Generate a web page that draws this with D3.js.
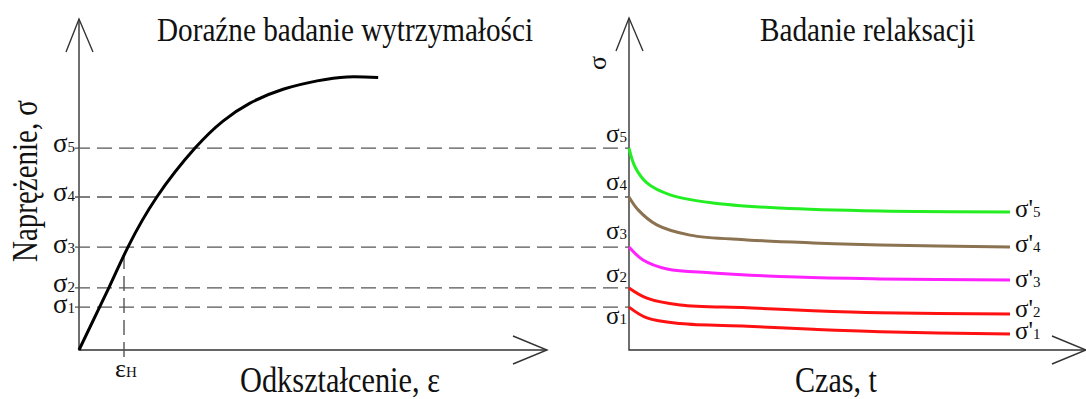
<!DOCTYPE html>
<html>
<head>
<meta charset="utf-8">
<script src="https://cdn.jsdelivr.net/npm/d3@7"></script>
<style>
  body { margin: 0; background: #fff; }
  text { font-family: "Liberation Serif", "Times New Roman", serif; fill: #111; }
</style>
</head>
<body>
<div id="chart"></div>
<script>
// stress levels sigma1..sigma5 (same units on both panels)
const sigmaLevels = [14.3, 20.7, 34.3, 51, 67.3];
const sigmaNames = ["1", "2", "3", "4", "5"];

// stress-strain curve (left panel)
const strain = [0, 6.4, 10.5, 16.7, 24.9, 30.9, 36.7, 43.8, 51.1, 57.5, 64.2];
const stress = [0, 20.7, 34.3, 51, 67.3, 76.3, 82.3, 86.9, 89.7, 91, 90.8];
const epsH = 9.66;

// relaxation curves (right panel)
const timeA = [0, 1.6, 4.7, 10.8, 22.0, 39.6, 65.9, 100];
const timeB = [0, 2.4, 7.3, 16.0, 31.0, 48.3, 65.9, 100];
const timeC = [0, 3.7, 10.0, 22.0, 44.1, 65.9, 100];
const timeD = [0, 4.7, 13.4, 31.0, 48.3, 65.9, 100];
const relax5 = [67.3, 61, 55.7, 51.7, 49, 47.3, 46.3, 46];
const relax4 = [51, 46.7, 41.7, 38.3, 36.7, 35.7, 35, 34.3];
const relax3 = [34.3, 30, 27, 25.7, 24.3, 23.7, 23.3];
const relax2 = [20.7, 17.3, 15, 14.1, 13.1, 12.4, 12];
const relax1 = [14.3, 10.7, 8.8, 7.9, 6.9, 6.1, 5.3];

const relaxSeries = [
  { name: "5", t: timeA, s: relax5, color: "#22ee22", ly: 217 },
  { name: "4", t: timeB, s: relax4, color: "#8b7250", ly: 252 },
  { name: "3", t: timeC, s: relax3, color: "#ff22ff", ly: 287 },
  { name: "2", t: timeD, s: relax2, color: "#ff1111", ly: 317 },
  { name: "1", t: timeD, s: relax1, color: "#ff1111", ly: 339 }
];

const width = 1086;
const height = 399;

const y = d3.scaleLinear().domain([0, 100]).range([350, 50]);
const xE = d3.scaleLinear().domain([0, 100]).range([79, 545]);
const xT = d3.scaleLinear().domain([0, 100]).range([629, 1010]);

const svg = d3.select("#chart")
  .append("svg")
  .attr("width", width)
  .attr("height", height);

const axisColor = "#333";

// axes with arrows
function arrowAxis(x0, y0, xEnd, yTop) {
  const g = svg.append("g")
    .attr("stroke", axisColor)
    .attr("stroke-width", 1.4)
    .attr("fill", "none");
  g.append("path").attr("d", `M${x0},${yTop}V${y0}H${xEnd}`);
  g.append("path").attr("d", `M${x0 - 13},${yTop + 33}L${x0},${yTop}L${x0 + 14},${yTop + 33}`);
  g.append("path").attr("d", `M${xEnd - 34},${y0 - 14}L${xEnd},${y0}L${xEnd - 34},${y0 + 14}`);
}
arrowAxis(xE(0), y(0), 547, 19);
arrowAxis(xT(0), y(0), 1086, 18);

// dashed guides
svg.append("g")
  .selectAll("line")
  .data(sigmaLevels)
  .enter()
  .append("line")
  .attr("x1", xE(0) - 4)
  .attr("x2", xT(0))
  .attr("y1", d => y(d))
  .attr("y2", d => y(d))
  .attr("stroke", "#555")
  .attr("stroke-width", 1.4)
  .attr("stroke-dasharray", "15,7");

svg.append("line")
  .attr("x1", xE(epsH)).attr("x2", xE(epsH))
  .attr("y1", y(0) + 7).attr("y2", y(31))
  .attr("stroke", "#555")
  .attr("stroke-width", 1.4)
  .attr("stroke-dasharray", "15,7");

// stress-strain curve
svg.append("path")
  .attr("d", d3.line().curve(d3.curveNatural)(strain.map((e, i) => [xE(e), y(stress[i])])))
  .attr("fill", "none")
  .attr("stroke", "#000")
  .attr("stroke-width", 3);

// relaxation curves
const line = d3.line().curve(d3.curveCatmullRom.alpha(0.5));
svg.append("g")
  .selectAll("path")
  .data(relaxSeries)
  .enter()
  .append("path")
  .attr("d", d => line(d.t.map((t, i) => [xT(t), y(d.s[i])])))
  .attr("fill", "none")
  .attr("stroke", d => d.color)
  .attr("stroke-width", 3);

// sigma labels
function sigmaLabel(x, yy, size, sub, prime) {
  const t = svg.append("text").attr("x", x).attr("y", yy).style("font-size", size + "px");
  t.append("tspan").text("σ");
  if (prime) t.append("tspan").text("'");
  t.append("tspan").style("font-size", "15px").text(sub);
}
const leftOffsets = [6, 4, 6, 4, 4];
sigmaLevels.forEach((s, i) => sigmaLabel(53, y(s) + leftOffsets[i], 27, sigmaNames[i], false));
const rightBase = [324, 282, 239, 190, 142];
sigmaLevels.forEach((s, i) => sigmaLabel(606, rightBase[i], 25, sigmaNames[i], false));
relaxSeries.forEach(d => sigmaLabel(1015, d.ly, 25, d.name, true));

// eps_H
const eh = svg.append("text").attr("x", xE(epsH) - 9).attr("y", 377).style("font-size", "26px");
eh.append("tspan").text("ε");
eh.append("tspan").style("font-size", "15px").text("H");

// titles and axis names
function fitText(txt, x, yy, size, len, rot) {
  const t = svg.append("text")
    .attr("x", x).attr("y", yy)
    .style("font-size", size + "px")
    .attr("textLength", len)
    .attr("lengthAdjust", "spacingAndGlyphs")
    .text(txt);
  if (rot) t.attr("transform", `rotate(-90,${x},${yy})`);
  return t;
}
fitText("Doraźne badanie wytrzymałości", 157, 41, 33, 376);
fitText("Badanie relaksacji", 760, 41, 33, 215);
fitText("Naprężenie, σ", 37, 262, 36, 162, true);
fitText("Odkształcenie, ε", 240, 392, 35, 200);
fitText("Czas, t", 795, 392, 35, 82);

svg.append("text")
  .attr("x", 606).attr("y", 70)
  .attr("transform", "rotate(-90,606,70)")
  .style("font-size", "26px")
  .text("σ");
</script>
</body>
</html>
